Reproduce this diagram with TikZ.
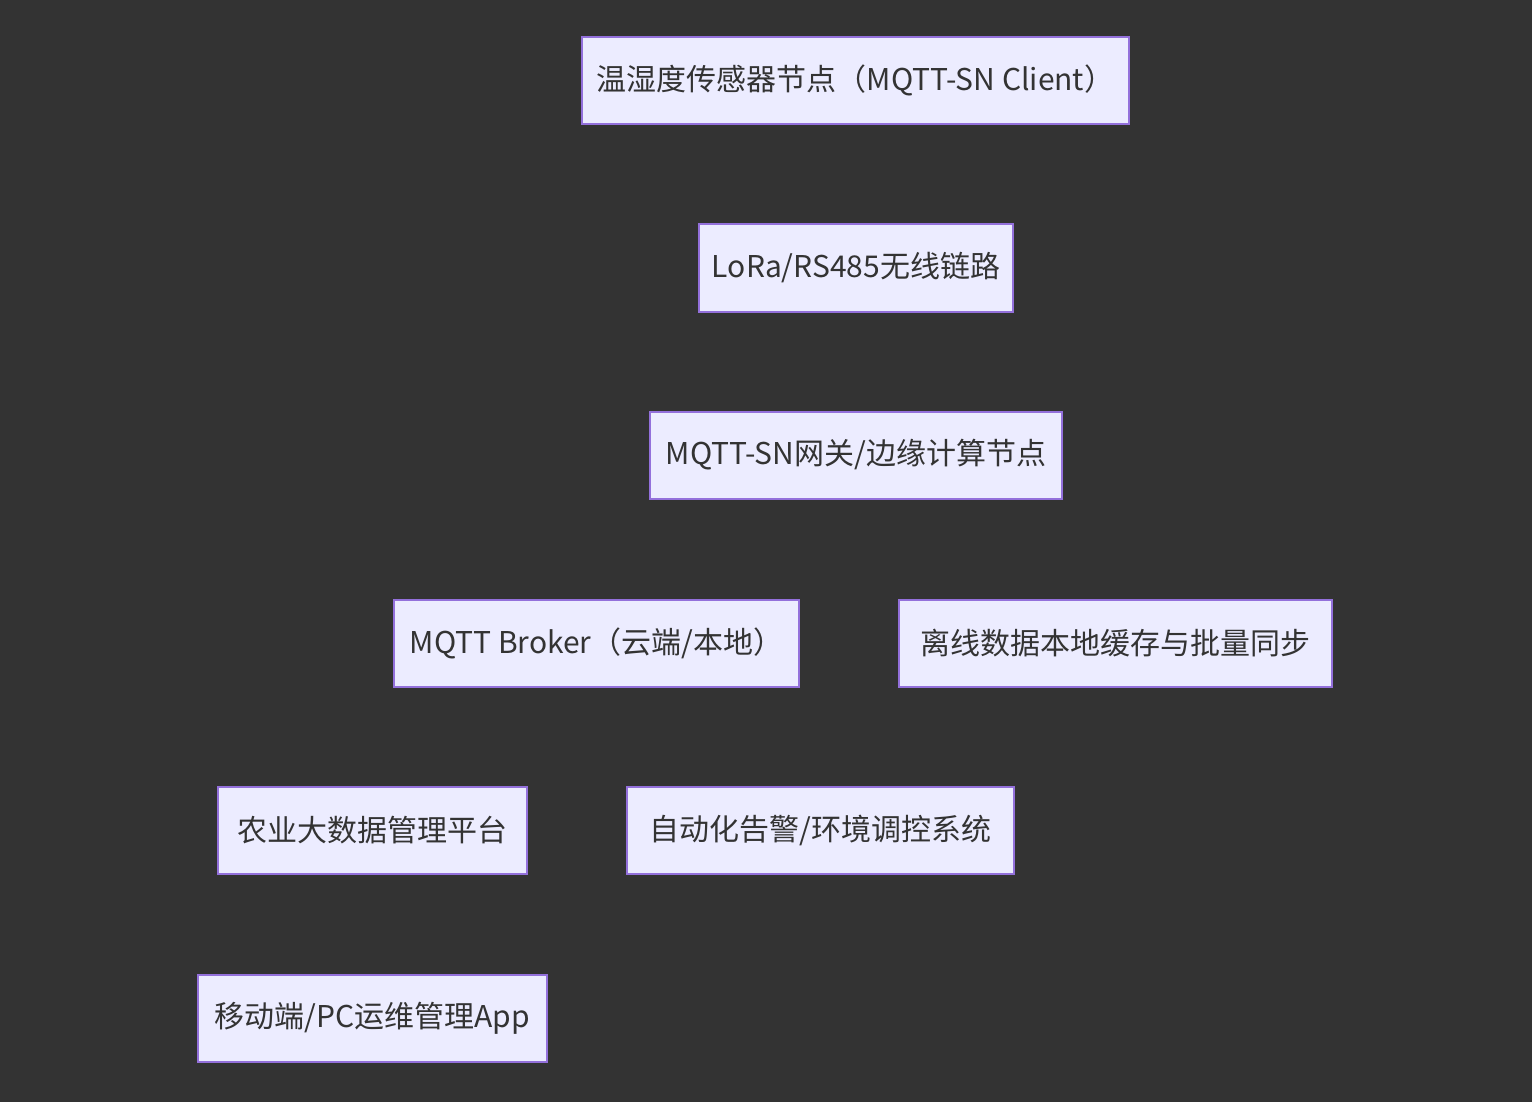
\documentclass[tikz,border=0pt]{standalone}
\usepackage{fontspec}
\setmainfont{Noto Sans CJK SC}
\definecolor{bgc}{HTML}{333333}
\definecolor{boxfill}{HTML}{ECECFF}
\definecolor{boxline}{HTML}{9370DB}
\definecolor{txt}{HTML}{333333}
\begin{document}
\begin{tikzpicture}[x=1pt,y=-1pt,
  nbox/.style={draw=boxline,fill=boxfill,line width=2pt,text=txt,
    font=\fontsize{30}{35}\selectfont,inner sep=0pt,minimum height=87pt,anchor=center}]
\fill[bgc] (0,0) rectangle (1532,1102);
\useasboundingbox (0,0) rectangle (1532,1102);
\node[nbox,minimum width=547pt] (n1) at (855.5,80.5) {温湿度传感器节点（MQTT-SN Client）};
\node[nbox,minimum width=314pt] (n2) at (856,268) {LoRa/RS485无线链路};
\node[nbox,minimum width=412pt] (n3) at (856,455) {MQTT-SN网关/边缘计算节点};
\node[nbox,minimum width=405pt] (n4) at (596.5,643) {MQTT Broker（云端/本地）};
\node[nbox,minimum width=433pt] (n5) at (1115.5,643) {离线数据本地缓存与批量同步};
\node[nbox,minimum width=309pt] (n6) at (372.5,830) {农业大数据管理平台};
\node[nbox,minimum width=387pt] (n7) at (820.5,830) {自动化告警/环境调控系统};
\node[nbox,minimum width=349pt] (n8) at (372.5,1018) {移动端/PC运维管理App};
\end{tikzpicture}
\end{document}
